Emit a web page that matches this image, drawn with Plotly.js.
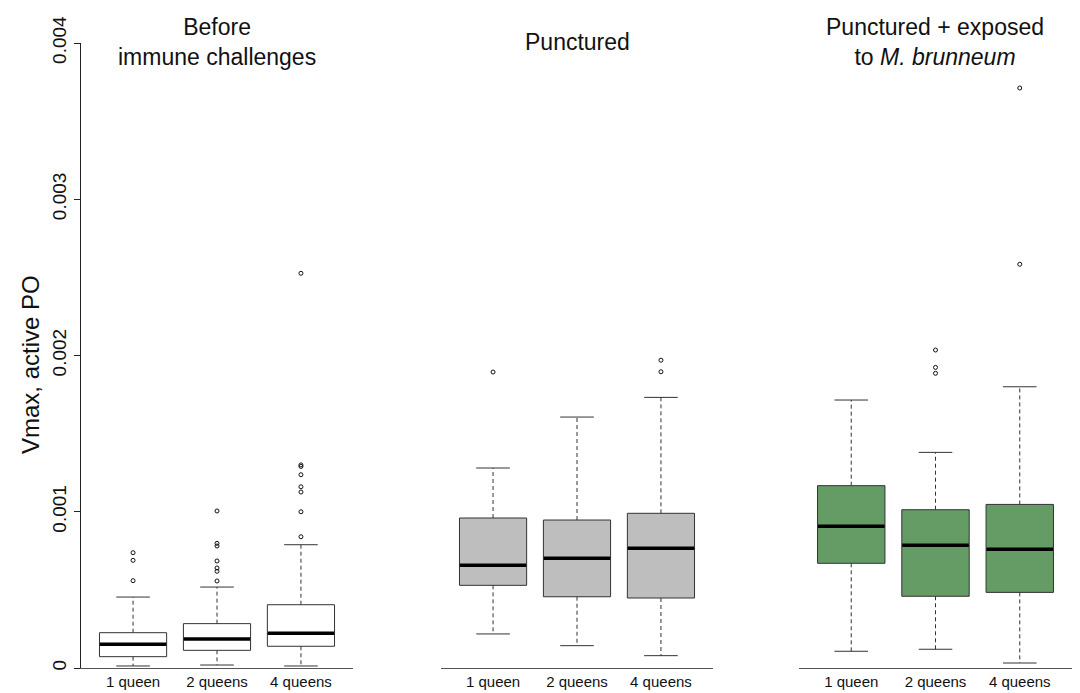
<!DOCTYPE html>
<html>
<head>
<meta charset="utf-8">
<script src="https://cdn.plot.ly/plotly-3.0.1.min.js"></script>
<style>html,body{margin:0;padding:0;background:#fff;}#chart{width:1080px;height:693px;}</style>
</head>
<body>
<div id="chart"></div>
<script>
// ---- data ----
const groups = ["1 queen", "2 queens", "4 queens"];
const yTickVals = [0, 0.001, 0.002, 0.003, 0.004];
const yTickText = ["0", "0.001", "0.002", "0.003", "0.004"];

// Panel 1: before immune challenges
const beforeQ1 = [0.0000725, 0.000113, 0.000139];
const beforeMedian = [0.000152, 0.000186, 0.000222];
const beforeQ3 = [0.000226, 0.000284, 0.000405];
const beforeLower = [0.000013, 0.000019, 0.000013];
const beforeUpper = [0.000454, 0.000518, 0.000789];
const beforeOut1 = [0.000559, 0.000689, 0.000738];
const beforeOut2 = [0.000557, 0.000619, 0.000640, 0.000685, 0.000781, 0.000798, 0.001005];
const beforeOut4 = [0.00084, 0.001, 0.001126, 0.00116, 0.001237, 0.00129, 0.0013, 0.002526];

// Panel 2: punctured
const puncQ1 = [0.000529, 0.000456, 0.000448];
const puncMedian = [0.000657, 0.000702, 0.000766];
const puncQ3 = [0.00096, 0.000947, 0.00099];
const puncLower = [0.000218, 0.000143, 0.000079];
const puncUpper = [0.00128, 0.001606, 0.001732];
const puncOut1 = [0.001894];
const puncOut2 = [];
const puncOut4 = [0.001896, 0.00197];

// Panel 3: punctured + exposed to M. brunneum
const expQ1 = [0.00067, 0.000459, 0.000484];
const expMedian = [0.000907, 0.000785, 0.00076];
const expQ3 = [0.001167, 0.001013, 0.001047];
const expLower = [0.000107, 0.00012, 0.000032];
const expUpper = [0.001715, 0.00138, 0.0018];
const expOut1 = [];
const expOut2 = [0.001886, 0.001924, 0.002035];
const expOut4 = [0.002584, 0.003712];

// ---- building ----
const panels = [
  {xa: "x",  q1: beforeQ1, med: beforeMedian, q3: beforeQ3, lo: beforeLower, hi: beforeUpper, out: [beforeOut1, beforeOut2, beforeOut4], fill: "#FFFFFF"},
  {xa: "x2", q1: puncQ1,   med: puncMedian,   q3: puncQ3,   lo: puncLower,   hi: puncUpper,   out: [puncOut1, puncOut2, puncOut4],       fill: "#BEBEBE"},
  {xa: "x3", q1: expQ1,    med: expMedian,    q3: expQ3,    lo: expLower,    hi: expUpper,    out: [expOut1, expOut2, expOut4],          fill: "#659B65"}
];

const traces = [];
panels.forEach(p => {
  // dashed whiskers
  const wx = [], wy = [];
  groups.forEach((g, i) => {
    wx.push(g, g, null, g, g, null);
    wy.push(p.q3[i], p.hi[i], null, p.q1[i], p.lo[i], null);
  });
  traces.push({type: "scatter", mode: "lines", xaxis: p.xa, yaxis: "y", x: wx, y: wy,
    line: {color: "#333", width: 1, dash: "4px,3px"}, hoverinfo: "skip", showlegend: false});
  // staples
  traces.push({type: "scatter", mode: "markers", xaxis: p.xa, yaxis: "y",
    x: groups.concat(groups), y: p.hi.concat(p.lo),
    marker: {symbol: "line-ew", size: 24, line: {color: "#333", width: 1}},
    hoverinfo: "skip", showlegend: false});
  // boxes
  traces.push({type: "box", xaxis: p.xa, yaxis: "y", x: groups,
    q1: p.q1, median: p.med, q3: p.q3, lowerfence: p.q1, upperfence: p.q3,
    boxpoints: false, width: 0.8, whiskerwidth: 0,
    fillcolor: p.fill, line: {color: "#333", width: 1}, hoverinfo: "skip", showlegend: false});
  // thick medians
  traces.push({type: "scatter", mode: "markers", xaxis: p.xa, yaxis: "y", x: groups, y: p.med,
    marker: {symbol: "line-ew", size: 47.5, line: {color: "#000", width: 3.5}},
    hoverinfo: "skip", showlegend: false});
  // outliers
  const ox = [], oy = [];
  groups.forEach((g, i) => { p.out[i].forEach(v => { ox.push(g); oy.push(v); }); });
  traces.push({type: "scatter", mode: "markers", xaxis: p.xa, yaxis: "y", x: ox, y: oy,
    marker: {symbol: "circle-open", size: 4, color: "#111", line: {color: "#111", width: 1}},
    hoverinfo: "skip", showlegend: false});
});

const FONT = "Liberation Sans, Arial, Helvetica, sans-serif";
const W = 1080, H = 693;
const yBottom = (H - 668) / H, yTop = (H - 43) / H;
function xAxis(d0, d1) {
  return {domain: [d0 / W, d1 / W], type: "category", range: [-0.62, 2.62], anchor: "y",
    showline: true, linecolor: "#555", linewidth: 1, ticks: "", showgrid: false, zeroline: false,
    tickfont: {family: FONT, size: 15, color: "#111"}, fixedrange: true};
}

const layout = {
  width: W, height: H,
  margin: {l: 0, r: 0, t: 0, b: 0},
  paper_bgcolor: "#fff", plot_bgcolor: "#fff",
  showlegend: false,
  font: {family: FONT},
  xaxis: xAxis(81, 353),
  xaxis2: xAxis(441, 713),
  xaxis3: xAxis(799, 1072),
  yaxis: {domain: [yBottom, yTop], range: [0, 0.004], anchor: "x",
    tickvals: yTickVals, ticktext: yTickText, tickangle: -90,
    ticks: "outside", ticklen: 6, tickcolor: "#222", tickwidth: 1,
    showline: true, linecolor: "#222", linewidth: 1, showgrid: false, zeroline: false,
    tickfont: {family: FONT, size: 19, color: "#111"}, fixedrange: true},
  annotations: [
    {text: "Vmax, active PO", xref: "paper", yref: "paper", x: 30 / W, y: (H - 365) / H,
     textangle: -90, showarrow: false, xanchor: "center", yanchor: "middle",
     font: {family: FONT, size: 24, color: "#111"}},
    {text: "Before<br>immune challenges", xref: "paper", yref: "paper", x: 217 / W, y: (H - 42) / H,
     showarrow: false, xanchor: "center", yanchor: "middle", font: {family: FONT, size: 23, color: "#111"}},
    {text: "Punctured", xref: "paper", yref: "paper", x: 577 / W, y: (H - 42) / H,
     showarrow: false, xanchor: "center", yanchor: "middle", font: {family: FONT, size: 23, color: "#111"}},
    {text: "Punctured + exposed<br>to <i>M. brunneum</i>", xref: "paper", yref: "paper", x: 935 / W, y: (H - 42) / H,
     showarrow: false, xanchor: "center", yanchor: "middle", font: {family: FONT, size: 23, color: "#111"}}
  ]
};

Plotly.newPlot("chart", traces, layout, {displayModeBar: false, staticPlot: true});
</script>
</body>
</html>
